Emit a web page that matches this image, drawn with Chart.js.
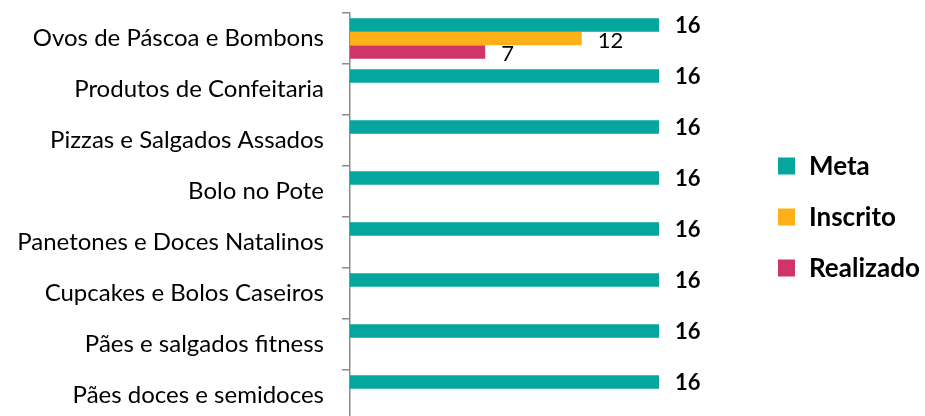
<!DOCTYPE html>
<html><head><meta charset="utf-8">
<script src="https://cdn.jsdelivr.net/npm/chart.js@4.4.1/dist/chart.umd.min.js"></script>
<style>
html,body{margin:0;padding:0;overflow:hidden;background:#fff;width:925px;height:416px;}
#c{position:absolute;left:0;top:0;}
</style></head>
<body><canvas id="c" width="925" height="425"></canvas>
<script>
const categories = ["Ovos de Páscoa e Bombons","Produtos de Confeitaria","Pizzas e Salgados Assados","Bolo no Pote","Panetones e Doces Natalinos","Cupcakes e Bolos Caseiros","Pães e salgados fitness","Pães doces e semidoces"];
const meta = [16,16,16,16,16,16,16,16];
const inscrito = [12,null,null,null,null,null,null,null];
const realizado = [7,null,null,null,null,null,null,null];
const seriesNames = ["Meta","Inscrito","Realizado"];
const colors = ["#05A69E","#FDB017","#CF3566"];
const FONT = "Lato";

const labelPlugin = {
  id:'vlabels',
  afterDatasetsDraw(chart){
    const ctx = chart.ctx;
    chart.data.datasets.forEach((ds,i)=>{
      const m = chart.getDatasetMeta(i);
      m.data.forEach((el,j)=>{
        const v = ds.data[j];
        if(v==null) return;
        ctx.save();
        ctx.fillStyle = '#000';
        ctx.font = (i===0?'bold 22px ':'22px ') + FONT;
        ctx.textAlign='left'; ctx.textBaseline='middle';
        ctx.fillText(String(v), el.x+16, el.y + (i===0?1:2));
        ctx.restore();
      });
    });
  }
};
const legendPlugin = {
  id:'clegend',
  afterDraw(chart){
    const ctx = chart.ctx;
    const ys=[166,217,268];
    seriesNames.forEach((n,i)=>{
      ctx.save();
      ctx.fillStyle=colors[i];
      ctx.fillRect(778, ys[i]-8.5, 17, 17);
      ctx.fillStyle='#000';
      ctx.font='bold 26px '+FONT;
      ctx.textAlign='left'; ctx.textBaseline='middle';
      ctx.fillText(n, 809, ys[i]+1);
      ctx.restore();
    });
  }
};

new Chart(document.getElementById('c'),{
  type:'bar',
  data:{labels:categories,datasets:[
    {label:seriesNames[0],data:meta,backgroundColor:colors[0]},
    {label:seriesNames[1],data:inscrito,backgroundColor:colors[1]},
    {label:seriesNames[2],data:realizado,backgroundColor:colors[2]}
  ]},
  options:{
    indexAxis:'y',responsive:false,animation:false,
    categoryPercentage:0.79,barPercentage:1.0,
    layout:{padding:{top:13,bottom:4,left:0,right:266}},
    plugins:{legend:{display:false},tooltip:{enabled:false}},
    scales:{
      x:{display:false,min:0,max:16},
      y:{
        afterFit(s){s.width=350;s.paddingTop=0;s.paddingBottom=0;},
        border:{display:true,color:'#8c8c8c',width:1.5},
        grid:{offset:true,drawOnChartArea:false,drawTicks:true,tickLength:8,color:'#8c8c8c',lineWidth:1.5},
        ticks:{color:'#000',font:{family:FONT,size:24},padding:18}
      }
    }
  },
  plugins:[labelPlugin,legendPlugin]
});
</script></body></html>
